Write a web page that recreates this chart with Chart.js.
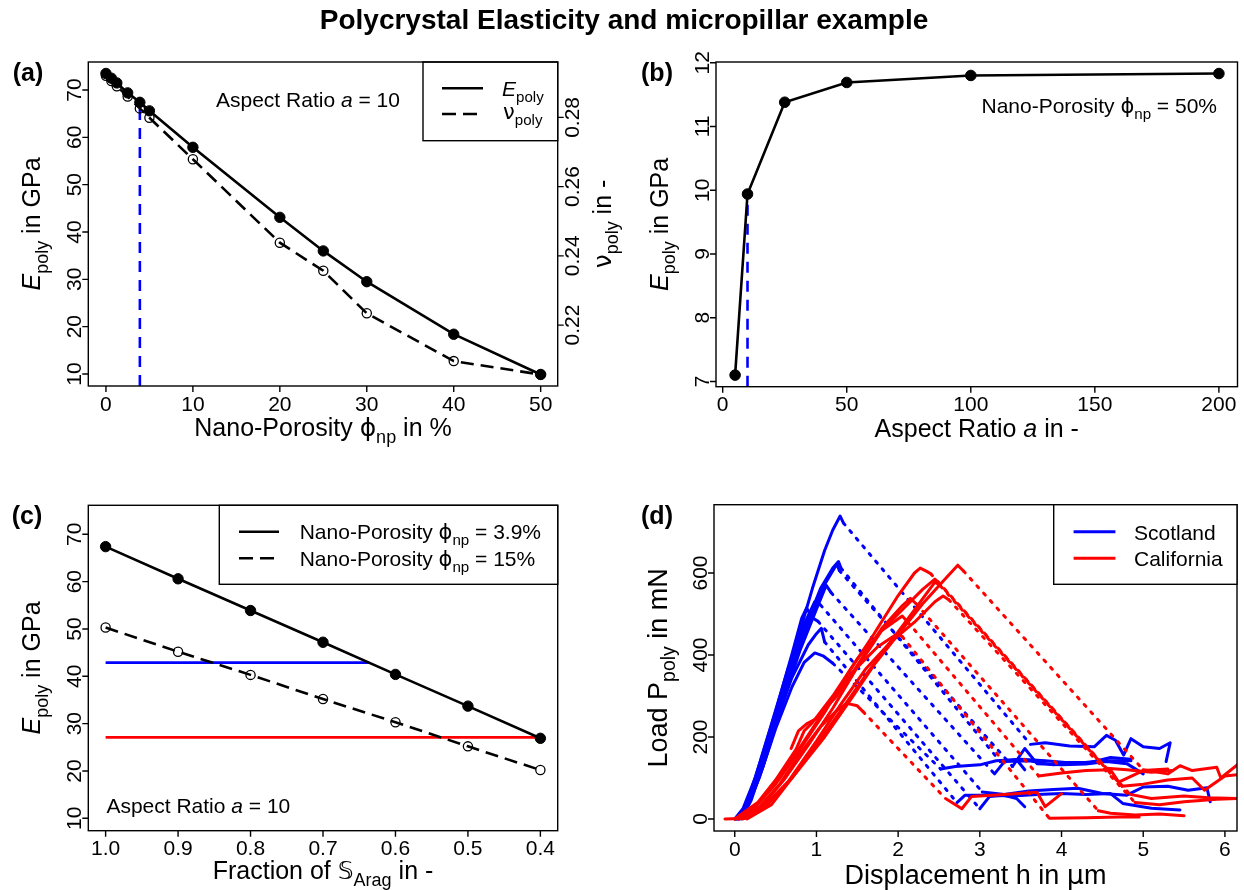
<!DOCTYPE html>
<html>
<head>
<meta charset="utf-8">
<script src="https://cdn.jsdelivr.net/npm/chart.js@4.4.0/dist/chart.umd.min.js"></script>
<style>
  html, body { margin: 0; padding: 0; background: #ffffff; }
  body { width: 1244px; height: 890px; position: relative; overflow: hidden; }
  canvas { position: absolute; left: 0; top: 0; }
</style>
</head>
<body>
<canvas id="panelA" width="1244" height="890"></canvas>
<canvas id="panelB" width="1244" height="890"></canvas>
<canvas id="panelC" width="1244" height="890"></canvas>
<canvas id="panelD" width="1244" height="890"></canvas>
<script>
// ---------------- data ----------------
// (a) modulus and Poisson ratio against nano-porosity, aspect ratio 10
const aPorosity = [0, 0.625, 1.25, 2.5, 3.9, 5, 10, 20, 25, 30, 40, 50];
const aModulus  = [73.5, 72.5, 71.5, 69.4, 67.4, 65.6, 57.9, 43.1, 36.0, 29.5, 18.4, 9.9];
const aPoisson  = [0.292, 0.2905, 0.289, 0.286, 0.2826, 0.2799, 0.2679, 0.2438, 0.2357, 0.2234, 0.2096, 0.2057];
const aChosenPorosity = 3.9;
const aXTicks  = [0, 10, 20, 30, 40, 50];
const aYTicks  = [10, 20, 30, 40, 50, 60, 70];
const aY2Ticks = [0.22, 0.24, 0.26, 0.28];

// (b) modulus against aspect ratio at 50 % nano-porosity
const bAspect  = [5, 10, 25, 50, 100, 200];
const bModulus = [7.1, 9.94, 11.38, 11.69, 11.80, 11.83];
const bChosenAspect = 10;
const bXTicks = [0, 50, 100, 150, 200];
const bYTicks = [7, 8, 9, 10, 11, 12];

// (c) modulus against aragonite stiffness fraction
const cFraction     = [1.0, 0.9, 0.8, 0.7, 0.6, 0.5, 0.4];
const cModulusLow   = [67.4, 60.6, 53.9, 47.2, 40.4, 33.7, 26.9];   // phi = 3.9 %
const cModulusHigh  = [50.3, 45.2, 40.3, 35.2, 30.3, 25.2, 20.2];   // phi = 15 %
const cScotlandModulus   = 42.9;
const cCaliforniaModulus = 27.1;
const cXTicks = [1.0, 0.9, 0.8, 0.7, 0.6, 0.5, 0.4];
const cYTicks = [10, 20, 30, 40, 50, 60, 70];

// (d) micropillar load-displacement records: loading branch and residual branch
const scotlandLoading = [
  [[0,0],[0.1,20],[0.2,60],[0.35,145],[0.55,280],[0.75,425],[0.95,562],[1.1,655],[1.2,705],[1.29,739],[1.33,722]],
  [[0.02,0],[0.12,25],[0.25,80],[0.45,205],[0.65,342],[0.85,462],[1.05,562],[1.2,612],[1.27,628],[1.3,612]],
  [[0.05,0],[0.15,30],[0.3,100],[0.5,220],[0.7,322],[0.85,382],[0.98,405],[1.08,398],[1.2,380]],
  [[0.03,0],[0.14,30],[0.3,110],[0.5,232],[0.7,345],[0.9,425],[1.0,452],[1.06,465],[1.1,432]],
  [[0,0],[0.1,25],[0.25,100],[0.45,232],[0.65,365],[0.85,475],[0.98,530],[1.05,522]],
  [[0.06,0],[0.18,40],[0.35,130],[0.55,262],[0.75,392],[0.95,502],[1.1,572],[1.25,622],[1.28,606]],
  [[0.04,0],[0.15,40],[0.3,132],[0.5,262],[0.7,402],[0.82,490],[0.88,515],[0.94,492],[1.02,482]],
  [[0.08,0],[0.2,45],[0.4,162],[0.6,292],[0.8,412],[1.0,512],[1.12,570],[1.18,552]]
];
const scotlandResidual = [
  [[3.62,182],[3.8,186],[4.1,178],[4.4,176],[4.55,204],[4.66,192],[4.76,156],[4.85,196],[5.0,176],[5.2,172],[5.33,186],[5.28,140]],
  [[3.25,140],[3.5,146],[3.8,142],[4.05,138],[4.35,138],[4.6,150],[4.85,146]],
  [[2.52,122],[2.7,128],[3.0,132],[3.2,142],[3.45,145],[3.55,120]],
  [[2.72,40],[2.82,58],[3.1,58],[3.4,56],[3.7,60],[4.0,62],[4.3,60],[4.6,62],[4.75,38],[5.1,26],[5.45,22]],
  [[3.03,66],[3.3,60],[3.6,68],[3.9,72],[4.2,75],[4.5,62],[4.8,58],[5.0,78],[5.3,80],[5.55,70],[5.78,76],[5.82,42]],
  [[3.4,128],[3.55,172],[3.7,135],[4.0,132],[4.3,134],[4.55,140],[4.8,135],[5.0,110]],
  [[3.0,25],[3.12,55],[3.3,58],[3.45,50],[3.55,30]],
  [[3.18,110],[3.3,140],[3.6,142],[3.9,132],[4.2,136],[4.5,142],[4.85,142]]
];
const californiaLoading = [
  [[-0.12,0],[0.15,2],[0.4,40],[0.7,100],[1.1,200],[1.45,300],[1.72,380],[2.0,450],[2.3,525],[2.55,580],[2.73,619],[2.8,605]],
  [[0,0],[0.25,30],[0.5,85],[0.8,170],[1.1,260],[1.4,360],[1.7,450],[2.0,545],[2.2,600],[2.27,612],[2.35,604],[2.4,598]],
  [[0.05,0],[0.35,35],[0.6,95],[0.9,180],[1.2,270],[1.5,370],[1.8,460],[2.1,520],[2.3,560],[2.45,585],[2.5,575]],
  [[0.1,0],[0.4,35],[0.65,90],[1.0,190],[1.3,280],[1.6,365],[1.9,430],[2.2,480],[2.45,530],[2.55,544],[2.62,535]],
  [[0.69,172],[0.78,215],[0.88,232],[1.0,245],[1.25,300],[1.5,375],[1.8,465],[2.05,520],[2.15,538],[2.22,525]],
  [[0,0],[0.3,40],[0.55,100],[0.85,190],[1.15,280],[1.45,360],[1.75,420],[2.0,453],[2.05,445]],
  [[0.05,0],[0.3,30],[0.55,85],[0.8,160],[1.05,225],[1.25,265],[1.37,282],[1.5,276],[1.57,262]],
  [[0,0],[0.28,40],[0.5,95],[0.75,170],[0.85,215],[0.95,235],[1.2,300],[1.5,390],[1.8,460],[2.05,495],[2.12,480]],
  [[0.15,0],[0.45,35],[0.7,100],[1.0,180],[1.3,265],[1.6,350],[1.9,430],[2.2,510],[2.45,578],[2.52,568]]
];
const californiaResidual = [
  [[5.0,120],[5.3,110],[5.45,130],[5.6,118],[5.9,126],[5.95,100],[6.15,132]],
  [[4.55,124],[4.8,120],[5.1,114],[5.35,118]],
  [[4.84,60],[5.1,50],[5.5,56],[5.8,52],[6.15,50]],
  [[4.9,40],[5.2,35],[5.5,42],[5.9,48],[6.15,50]],
  [[4.45,20],[4.6,14],[4.9,10],[5.2,12],[5.5,8]],
  [[3.85,2],[4.3,3],[4.7,5],[4.95,5]],
  [[2.58,50],[2.78,25],[2.9,55],[3.3,60],[3.7,65],[3.8,30],[4.0,62]],
  [[3.72,105],[4.0,112],[4.3,118],[4.6,120],[4.7,90],[5.0,118],[5.3,122]],
  [[4.74,80],[5.0,85],[5.3,95],[5.6,100],[5.75,70],[6.0,105],[6.15,108]]
];
const dXTicks = [0, 1, 2, 3, 4, 5, 6];
const dYTicks = [0, 200, 400, 600];

// ---------------- drawing helpers ----------------
const W = 1244, H = 890;
const SANS = '"Liberation Sans", Arial, Helvetica, sans-serif';
const SYM = '"DejaVu Sans", "Liberation Sans", sans-serif';
const TICKF = 21, TXT = 21, LAB = 25, TICKLEN = 6;
const BLUE = '#0000ff', RED = '#ff0000';
const ROT = -Math.PI / 2;

function fontOf(size, p) {
  return (p.it ? 'italic ' : '') + (p.bold ? 'bold ' : '') + size + 'px ' + (p.fam || SANS);
}
function partSize(size, p) { return p.sub ? size * 0.72 : size; }
function richWidth(ctx, parts, size) {
  let w = 0;
  for (const p of parts) { ctx.font = fontOf(partSize(size, p), p); w += ctx.measureText(p.t).width; }
  return w;
}
// draws text made of runs (italic / subscript / symbol); y is the centre of the capitals
function drawRich(ctx, parts, x, y, size, align, rot, bold) {
  if (typeof parts === 'string') parts = [{ t: parts }];
  if (bold) parts = parts.map(p => Object.assign({ bold: true }, p));
  ctx.save();
  ctx.translate(x, y);
  if (rot) ctx.rotate(rot);
  const w = richWidth(ctx, parts, size);
  let cx = align === 'center' ? -w / 2 : align === 'right' ? -w : 0;
  const base = size * 0.716 / 2;
  ctx.fillStyle = '#000';
  ctx.textAlign = 'left';
  ctx.textBaseline = 'alphabetic';
  for (const p of parts) {
    const s = partSize(size, p);
    ctx.font = fontOf(s, p);
    ctx.fillText(p.t, cx, base + (p.sub ? size * 0.3 : 0));
    cx += ctx.measureText(p.t).width;
  }
  ctx.restore();
}
function seg(ctx, x1, y1, x2, y2, color, width, dash) {
  ctx.save();
  ctx.strokeStyle = color; ctx.lineWidth = width; ctx.setLineDash(dash || []);
  ctx.beginPath(); ctx.moveTo(x1, y1); ctx.lineTo(x2, y2); ctx.stroke();
  ctx.restore();
}
function box(ctx, l, t, r, b) {
  ctx.save();
  ctx.strokeStyle = '#000'; ctx.lineWidth = 1.4;
  ctx.strokeRect(l, t, r - l, b - t);
  ctx.restore();
}
function drawAxes(chart, o) {
  const { ctx, chartArea: a, scales } = chart;
  box(ctx, a.left, a.top, a.right, a.bottom);
  ctx.save();
  ctx.strokeStyle = '#000'; ctx.lineWidth = 1.4;
  ctx.beginPath();
  o.xTicks.forEach(v => { const p = scales.x.getPixelForValue(v); ctx.moveTo(p, a.bottom); ctx.lineTo(p, a.bottom + TICKLEN); });
  o.yTicks.forEach(v => { const p = scales.y.getPixelForValue(v); ctx.moveTo(a.left, p); ctx.lineTo(a.left - TICKLEN, p); });
  if (o.y2Ticks) o.y2Ticks.forEach(v => { const p = scales.y2.getPixelForValue(v); ctx.moveTo(a.right, p); ctx.lineTo(a.right + TICKLEN, p); });
  ctx.stroke();
  ctx.restore();
  o.xTicks.forEach(v => drawRich(ctx, o.xFmt(v), scales.x.getPixelForValue(v), a.bottom + 17, o.tickSize || TICKF, 'center'));
  o.yTicks.forEach(v => drawRich(ctx, o.yFmt(v), a.left - 15, scales.y.getPixelForValue(v), o.tickSize || TICKF, 'center', ROT));
  if (o.y2Ticks) o.y2Ticks.forEach(v => drawRich(ctx, o.y2Fmt(v), a.right + 14, scales.y2.getPixelForValue(v), TICKF, 'center', ROT));
  const lab = o.labSize || LAB;
  drawRich(ctx, o.xTitle, (a.left + a.right) / 2, o.xTitleY, lab, 'center');
  drawRich(ctx, o.yTitle, a.left - 57, (a.top + a.bottom) / 2, lab, 'center', ROT);
  if (o.y2Title) drawRich(ctx, o.y2Title, a.right + 44, (a.top + a.bottom) / 2, lab, 'center', ROT);
  drawRich(ctx, o.tag, o.tagX, o.tagY, 25, 'center', 0, true);
}
function pts(xs, ys) { return xs.map((x, i) => ({ x, y: ys[i] })); }
function xy(list) { return list.map(([x, y]) => ({ x, y })); }
function interpX(xs, ys, level) {
  for (let i = 0; i < xs.length - 1; i++) {
    const y0 = ys[i], y1 = ys[i + 1];
    if ((level - y0) * (level - y1) <= 0 && y0 !== y1) return xs[i] + (xs[i + 1] - xs[i]) * (level - y0) / (y1 - y0);
  }
  return xs[xs.length - 1];
}
function makeChart(id, area, scales, datasets, decorate) {
  return new Chart(document.getElementById(id), {
    type: 'scatter',
    data: { datasets },
    options: {
      responsive: false, animation: false, devicePixelRatio: 1, events: [],
      layout: { padding: { left: area.l, top: area.t, right: W - area.r, bottom: H - area.b } },
      scales,
      plugins: { legend: { display: false }, tooltip: { enabled: false }, title: { display: false } },
      elements: { line: { tension: 0 } }
    },
    plugins: [{ id: 'decor_' + id, afterDraw: decorate }]
  });
}
const hidden = (min, max, extra) => Object.assign({ type: 'linear', display: false, min, max }, extra || {});
const fmt0 = v => String(v);

// ---------------- panel (a) ----------------
const phiNp = [{ t: 'ϕ', fam: SYM }, { t: 'np', sub: true }];
const ePoly = [{ t: 'E', it: true }, { t: 'poly', sub: true }];
const nuPoly = [{ t: 'ν', fam: SYM }, { t: 'poly', sub: true }];
const aNuAtChosen = aPoisson[aPorosity.indexOf(aChosenPorosity)];

makeChart('panelA', { l: 88.3, t: 62, r: 557.7, b: 386 },
  { x: hidden(-2.03, 51.96), y: hidden(7.46, 75.92), y2: hidden(0.2024, 0.2960, { position: 'right' }) },
  [
    { data: pts(aPorosity, aModulus), showLine: true, yAxisID: 'y', borderColor: '#000', borderWidth: 2.6,
      pointRadius: 5.2, pointBackgroundColor: '#000', pointBorderColor: '#000', pointBorderWidth: 1 },
    { data: pts(aPorosity, aPoisson), showLine: true, yAxisID: 'y2', borderColor: '#000', borderWidth: 2.6, borderDash: [13, 7],
      pointRadius: 4.6, pointBackgroundColor: 'rgba(0,0,0,0)', pointBorderColor: '#000', pointBorderWidth: 1.3 },
    { data: [{ x: aChosenPorosity, y: 0.2024 }, { x: aChosenPorosity, y: aNuAtChosen }], showLine: true, yAxisID: 'y2',
      borderColor: BLUE, borderWidth: 2.6, borderDash: [11, 8], pointRadius: 0 }
  ],
  chart => {
    const ctx = chart.ctx;
    drawRich(ctx, 'Polycrystal Elasticity and micropillar example', 624, 19, 28, 'center', 0, true);
    drawAxes(chart, {
      xTicks: aXTicks, yTicks: aYTicks, y2Ticks: aY2Ticks,
      xFmt: fmt0, yFmt: fmt0, y2Fmt: v => v.toFixed(2),
      xTitle: [{ t: 'Nano-Porosity ' }, ...phiNp, { t: ' in %' }], xTitleY: 427,
      yTitle: [...ePoly, { t: ' in GPa' }],
      y2Title: [...nuPoly, { t: ' in -' }],
      tag: '(a)', tagX: 28, tagY: 72
    });
    drawRich(ctx, [{ t: 'Aspect Ratio ' }, { t: 'a', it: true }, { t: ' = 10' }], 216, 99, TXT, 'left');
    // legend
    box(ctx, 423, 62, 557.7, 140.7);
    seg(ctx, 442, 88.3, 483, 88.3, '#000', 2.6);
    seg(ctx, 442, 114, 483, 114, '#000', 2.6, [14, 7]);
    drawRich(ctx, ePoly, 502, 88.5, TXT, 'left');
    drawRich(ctx, nuPoly, 503, 111, TXT, 'left');
  });

// ---------------- panel (b) ----------------
makeChart('panelB', { l: 716, t: 62, r: 1237.5, b: 386.7 },
  { x: hidden(-2.7, 207.5), y: hidden(6.918, 12.011) },
  [
    { data: pts(bAspect, bModulus), showLine: true, borderColor: '#000', borderWidth: 2.6,
      pointRadius: 5.3, pointBackgroundColor: '#000', pointBorderColor: '#000', pointBorderWidth: 1 },
    { data: [{ x: bChosenAspect, y: 6.918 }, { x: bChosenAspect, y: bModulus[bAspect.indexOf(bChosenAspect)] }], showLine: true,
      borderColor: BLUE, borderWidth: 2.6, borderDash: [11, 8], pointRadius: 0 }
  ],
  chart => {
    drawAxes(chart, {
      xTicks: bXTicks, yTicks: bYTicks, xFmt: fmt0, yFmt: fmt0,
      xTitle: [{ t: 'Aspect Ratio ' }, { t: 'a', it: true }, { t: ' in -' }], xTitleY: 428,
      yTitle: [...ePoly, { t: ' in GPa' }],
      tag: '(b)', tagX: 657, tagY: 72
    });
    drawRich(chart.ctx, [{ t: 'Nano-Porosity ' }, ...phiNp, { t: ' = 50%' }], 1217, 105, TXT, 'right');
  });

// ---------------- panel (c) ----------------
const cBlueEnd = interpX(cFraction, cModulusLow, cScotlandModulus);
const cRedEnd = interpX(cFraction, cModulusLow, cCaliforniaModulus);
makeChart('panelC', { l: 88.3, t: 505.3, r: 557.7, b: 830.7 },
  { x: hidden(0.3761, 1.0239, { reverse: true }), y: hidden(7.38, 76.13) },
  [
    { data: pts(cFraction, cModulusLow), showLine: true, borderColor: '#000', borderWidth: 2.6,
      pointRadius: 5.2, pointBackgroundColor: '#000', pointBorderColor: '#000', pointBorderWidth: 1 },
    { data: pts(cFraction, cModulusHigh), showLine: true, borderColor: '#000', borderWidth: 2.6, borderDash: [13, 7],
      pointRadius: 4.6, pointBackgroundColor: 'rgba(0,0,0,0)', pointBorderColor: '#000', pointBorderWidth: 1.3 },
    { data: [{ x: 1.0, y: cScotlandModulus }, { x: cBlueEnd, y: cScotlandModulus }], showLine: true,
      borderColor: BLUE, borderWidth: 2.6, pointRadius: 0 },
    { data: [{ x: 1.0, y: cCaliforniaModulus }, { x: cRedEnd, y: cCaliforniaModulus }], showLine: true,
      borderColor: RED, borderWidth: 2.6, pointRadius: 0 }
  ],
  chart => {
    const ctx = chart.ctx;
    drawAxes(chart, {
      xTicks: cXTicks, yTicks: cYTicks, xFmt: v => v.toFixed(1), yFmt: fmt0,
      xTitle: [{ t: 'Fraction of ' }, { t: '𝕊', fam: SYM }, { t: 'Arag', sub: true }, { t: ' in -' }], xTitleY: 870,
      yTitle: [...ePoly, { t: ' in GPa' }],
      tag: '(c)', tagX: 27, tagY: 515
    });
    drawRich(ctx, [{ t: 'Aspect Ratio ' }, { t: 'a', it: true }, { t: ' = 10' }], 106.4, 805, TXT, 'left');
    box(ctx, 219.3, 505.3, 557.7, 584.3);
    seg(ctx, 239, 531.7, 279, 531.7, '#000', 2.6);
    seg(ctx, 239, 558.3, 279, 558.3, '#000', 2.6, [14, 7]);
    drawRich(ctx, [{ t: 'Nano-Porosity ' }, ...phiNp, { t: ' = 3.9%' }], 299.7, 531.5, TXT, 'left');
    drawRich(ctx, [{ t: 'Nano-Porosity ' }, ...phiNp, { t: ' = 15%' }], 299.7, 558, TXT, 'left');
  });

// ---------------- panel (d) ----------------
function pillarSets(loading, residual, color) {
  const out = [];
  loading.forEach((load, i) => {
    const res = residual[i];
    out.push({ data: xy(load), showLine: true, borderColor: color, borderWidth: 3, pointRadius: 0,
               borderJoinStyle: 'round', borderCapStyle: 'round' });
    out.push({ data: xy([load[load.length - 1], res[0]]), showLine: true, borderColor: color, borderWidth: 3,
               borderDash: [2.5, 7.5], borderCapStyle: 'round', pointRadius: 0 });
    out.push({ data: xy(res), showLine: true, borderColor: color, borderWidth: 3, pointRadius: 0,
               borderJoinStyle: 'round', borderCapStyle: 'round' });
  });
  return out;
}
makeChart('panelD', { l: 714, t: 504.7, r: 1237, b: 831 },
  { x: hidden(-0.254, 6.148), y: hidden(-29.3, 766.6) },
  [...pillarSets(californiaLoading, californiaResidual, RED), ...pillarSets(scotlandLoading, scotlandResidual, BLUE)],
  chart => {
    const ctx = chart.ctx;
    drawAxes(chart, {
      xTicks: dXTicks, yTicks: dYTicks, xFmt: fmt0, yFmt: fmt0, labSize: 27,
      xTitle: [{ t: 'Displacement h in ' }, { t: 'μ', fam: SYM }, { t: 'm' }], xTitleY: 874,
      yTitle: [{ t: 'Load P' }, { t: 'poly', sub: true }, { t: ' in mN' }],
      tag: '(d)', tagX: 657, tagY: 515
    });
    ctx.save(); ctx.fillStyle = '#fff'; ctx.fillRect(1053.7, 504.7, 1237 - 1053.7, 584.3 - 504.7); ctx.restore();
    box(ctx, 1053.7, 504.7, 1237, 584.3);
    seg(ctx, 1073.6, 531.7, 1115.4, 531.7, BLUE, 3);
    seg(ctx, 1073.6, 558.3, 1115.4, 558.3, RED, 3);
    drawRich(ctx, 'Scotland', 1134, 532, TXT, 'left');
    drawRich(ctx, 'California', 1134, 558.5, TXT, 'left');
  });
</script>
</body>
</html>
